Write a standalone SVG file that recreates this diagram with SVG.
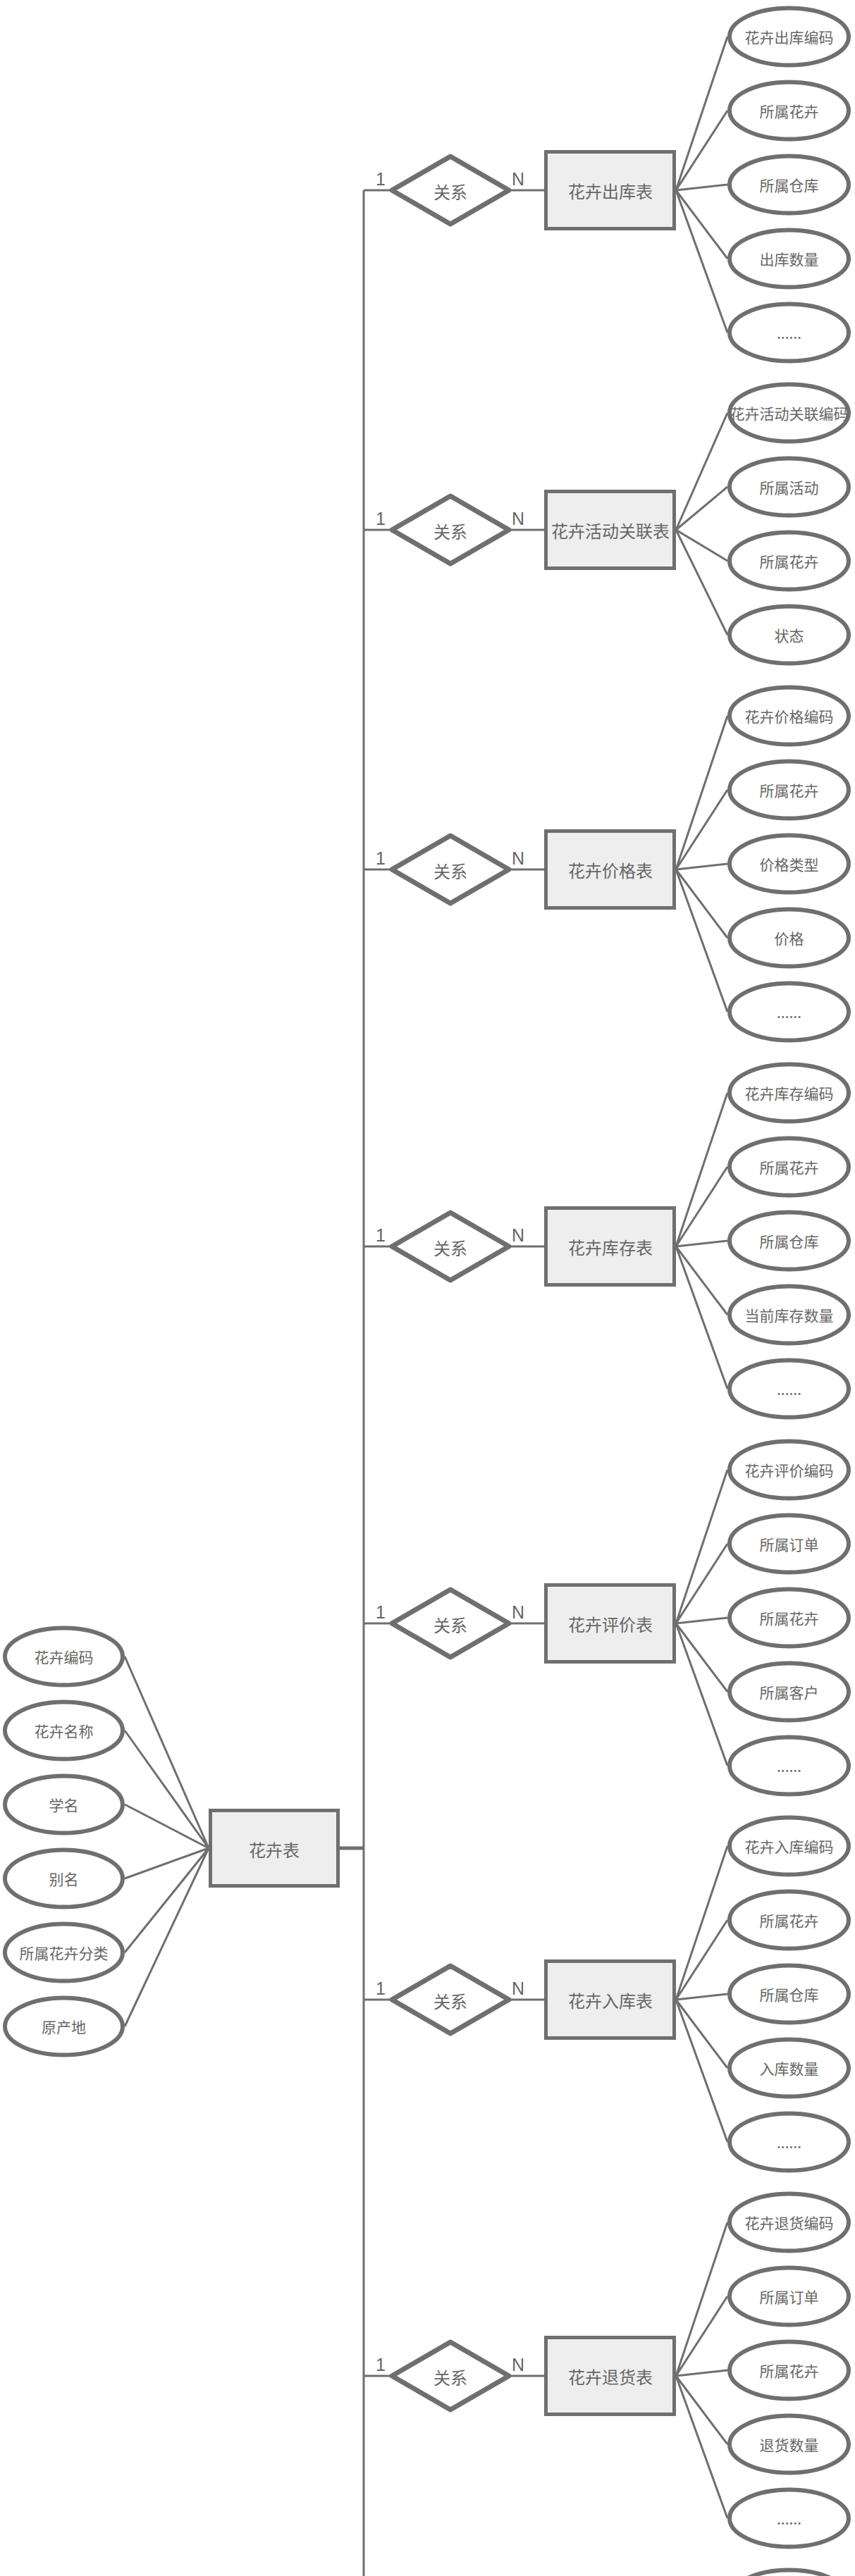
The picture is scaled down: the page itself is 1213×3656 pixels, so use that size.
<svg xmlns="http://www.w3.org/2000/svg" width="1213" height="3656" viewBox="0 0 1213 3656">
<style>
.ln{stroke:#6f6f6f;stroke-width:3;fill:none}
.lnb{stroke:#6f6f6f;stroke-width:5;fill:none}
.att{fill:#fff;stroke:#6f6f6f;stroke-width:6}
.ent{fill:#eeeeee;stroke:#6f6f6f;stroke-width:5}
.rel{fill:#fff;stroke:#6f6f6f;stroke-width:7;stroke-linejoin:round}
.t{font-family:"Noto Sans CJK SC","Liberation Sans",sans-serif;fill:#666;text-anchor:middle;dominant-baseline:central}
.ta{font-size:21px}
.te{font-size:24px}
.card{font-family:"Liberation Sans","Noto Sans CJK SC",sans-serif;fill:#666;font-size:25px;text-anchor:middle}
</style>
<rect width="1213" height="3656" fill="#fff"/>
<g id="connectors">
<path class="ln" d="M516 270V3656"/>
<path class="lnb" d="M482 2623H516"/>
<path class="ln" d="M177 2351L296 2623M177 2456L296 2623M177 2561L296 2623M177 2666L296 2623M177 2771L296 2623M177 2876L296 2623"/>
<path class="ln" d="M516 270H556M722 270H772M959 270L1032 52M959 270L1032 157M959 270L1032 262M959 270L1032 367M959 270L1032 472"/>
<path class="ln" d="M516 752H556M722 752H772M959 752L1032 586M959 752L1032 691M959 752L1032 796M959 752L1032 901"/>
<path class="ln" d="M516 1234H556M722 1234H772M959 1234L1032 1016M959 1234L1032 1121M959 1234L1032 1226M959 1234L1032 1331M959 1234L1032 1436"/>
<path class="ln" d="M516 1769H556M722 1769H772M959 1769L1032 1551M959 1769L1032 1656M959 1769L1032 1761M959 1769L1032 1866M959 1769L1032 1971"/>
<path class="ln" d="M516 2304H556M722 2304H772M959 2304L1032 2086M959 2304L1032 2191M959 2304L1032 2296M959 2304L1032 2401M959 2304L1032 2506"/>
<path class="ln" d="M516 2838H556M722 2838H772M959 2838L1032 2620M959 2838L1032 2725M959 2838L1032 2830M959 2838L1032 2935M959 2838L1032 3040"/>
<path class="ln" d="M516 3372H556M722 3372H772M959 3372L1032 3154M959 3372L1032 3259M959 3372L1032 3364M959 3372L1032 3469M959 3372L1032 3574"/>
</g>
<g id="main">
<g id="e-flower"><rect class="ent" x="298.5" y="2569.5" width="181" height="107"/><text class="t te" x="389" y="2624">花卉表</text></g>
<g id="a-m1"><ellipse class="att" cx="90.5" cy="2351" rx="83.5" ry="40.5"/><text class="t ta" x="90.5" y="2351">花卉编码</text></g>
<g id="a-m2"><ellipse class="att" cx="90.5" cy="2456" rx="83.5" ry="40.5"/><text class="t ta" x="90.5" y="2456">花卉名称</text></g>
<g id="a-m3"><ellipse class="att" cx="90.5" cy="2561" rx="83.5" ry="40.5"/><text class="t ta" x="90.5" y="2561">学名</text></g>
<g id="a-m4"><ellipse class="att" cx="90.5" cy="2666" rx="83.5" ry="40.5"/><text class="t ta" x="90.5" y="2666">别名</text></g>
<g id="a-m5"><ellipse class="att" cx="90.5" cy="2771" rx="83.5" ry="40.5"/><text class="t ta" x="90.5" y="2771">所属花卉分类</text></g>
<g id="a-m6"><ellipse class="att" cx="90.5" cy="2876" rx="83.5" ry="40.5"/><text class="t ta" x="90.5" y="2876">原产地</text></g>
</g>
<g id="g1">
<g id="r1"><path class="rel" d="M556 270L639 222L722 270L639 318Z"/><text class="t te" x="639" y="271">关系</text></g>
<text class="card" x="540" y="263">1</text><text class="card" x="735" y="263">N</text>
<g id="e1"><rect class="ent" x="774.5" y="215.5" width="182" height="109"/><text class="t te" x="866" y="270">花卉出库表</text></g>
<g id="a1-1"><ellipse class="att" cx="1119.5" cy="52" rx="84.5" ry="40.5"/><text class="t ta" x="1119.5" y="52">花卉出库编码</text></g>
<g id="a1-2"><ellipse class="att" cx="1119.5" cy="157" rx="84.5" ry="40.5"/><text class="t ta" x="1119.5" y="157">所属花卉</text></g>
<g id="a1-3"><ellipse class="att" cx="1119.5" cy="262" rx="84.5" ry="40.5"/><text class="t ta" x="1119.5" y="262">所属仓库</text></g>
<g id="a1-4"><ellipse class="att" cx="1119.5" cy="367" rx="84.5" ry="40.5"/><text class="t ta" x="1119.5" y="367">出库数量</text></g>
<g id="a1-5"><ellipse class="att" cx="1119.5" cy="472" rx="84.5" ry="40.5"/><text class="t ta" x="1119.5" y="472">......</text></g>
</g>
<g id="g2">
<g id="r2"><path class="rel" d="M556 752L639 704L722 752L639 800Z"/><text class="t te" x="639" y="753">关系</text></g>
<text class="card" x="540" y="745">1</text><text class="card" x="735" y="745">N</text>
<g id="e2"><rect class="ent" x="774.5" y="697.5" width="182" height="109"/><text class="t te" x="866" y="752">花卉活动关联表</text></g>
<g id="a2-1"><ellipse class="att" cx="1119.5" cy="586" rx="84.5" ry="40.5"/><text class="t ta" x="1119.5" y="586">花卉活动关联编码</text></g>
<g id="a2-2"><ellipse class="att" cx="1119.5" cy="691" rx="84.5" ry="40.5"/><text class="t ta" x="1119.5" y="691">所属活动</text></g>
<g id="a2-3"><ellipse class="att" cx="1119.5" cy="796" rx="84.5" ry="40.5"/><text class="t ta" x="1119.5" y="796">所属花卉</text></g>
<g id="a2-4"><ellipse class="att" cx="1119.5" cy="901" rx="84.5" ry="40.5"/><text class="t ta" x="1119.5" y="901">状态</text></g>
</g>
<g id="g3">
<g id="r3"><path class="rel" d="M556 1234L639 1186L722 1234L639 1282Z"/><text class="t te" x="639" y="1235">关系</text></g>
<text class="card" x="540" y="1227">1</text><text class="card" x="735" y="1227">N</text>
<g id="e3"><rect class="ent" x="774.5" y="1179.5" width="182" height="109"/><text class="t te" x="866" y="1234">花卉价格表</text></g>
<g id="a3-1"><ellipse class="att" cx="1119.5" cy="1016" rx="84.5" ry="40.5"/><text class="t ta" x="1119.5" y="1016">花卉价格编码</text></g>
<g id="a3-2"><ellipse class="att" cx="1119.5" cy="1121" rx="84.5" ry="40.5"/><text class="t ta" x="1119.5" y="1121">所属花卉</text></g>
<g id="a3-3"><ellipse class="att" cx="1119.5" cy="1226" rx="84.5" ry="40.5"/><text class="t ta" x="1119.5" y="1226">价格类型</text></g>
<g id="a3-4"><ellipse class="att" cx="1119.5" cy="1331" rx="84.5" ry="40.5"/><text class="t ta" x="1119.5" y="1331">价格</text></g>
<g id="a3-5"><ellipse class="att" cx="1119.5" cy="1436" rx="84.5" ry="40.5"/><text class="t ta" x="1119.5" y="1436">......</text></g>
</g>
<g id="g4">
<g id="r4"><path class="rel" d="M556 1769L639 1721L722 1769L639 1817Z"/><text class="t te" x="639" y="1770">关系</text></g>
<text class="card" x="540" y="1762">1</text><text class="card" x="735" y="1762">N</text>
<g id="e4"><rect class="ent" x="774.5" y="1714.5" width="182" height="109"/><text class="t te" x="866" y="1769">花卉库存表</text></g>
<g id="a4-1"><ellipse class="att" cx="1119.5" cy="1551" rx="84.5" ry="40.5"/><text class="t ta" x="1119.5" y="1551">花卉库存编码</text></g>
<g id="a4-2"><ellipse class="att" cx="1119.5" cy="1656" rx="84.5" ry="40.5"/><text class="t ta" x="1119.5" y="1656">所属花卉</text></g>
<g id="a4-3"><ellipse class="att" cx="1119.5" cy="1761" rx="84.5" ry="40.5"/><text class="t ta" x="1119.5" y="1761">所属仓库</text></g>
<g id="a4-4"><ellipse class="att" cx="1119.5" cy="1866" rx="84.5" ry="40.5"/><text class="t ta" x="1119.5" y="1866">当前库存数量</text></g>
<g id="a4-5"><ellipse class="att" cx="1119.5" cy="1971" rx="84.5" ry="40.5"/><text class="t ta" x="1119.5" y="1971">......</text></g>
</g>
<g id="g5">
<g id="r5"><path class="rel" d="M556 2304L639 2256L722 2304L639 2352Z"/><text class="t te" x="639" y="2305">关系</text></g>
<text class="card" x="540" y="2297">1</text><text class="card" x="735" y="2297">N</text>
<g id="e5"><rect class="ent" x="774.5" y="2249.5" width="182" height="109"/><text class="t te" x="866" y="2304">花卉评价表</text></g>
<g id="a5-1"><ellipse class="att" cx="1119.5" cy="2086" rx="84.5" ry="40.5"/><text class="t ta" x="1119.5" y="2086">花卉评价编码</text></g>
<g id="a5-2"><ellipse class="att" cx="1119.5" cy="2191" rx="84.5" ry="40.5"/><text class="t ta" x="1119.5" y="2191">所属订单</text></g>
<g id="a5-3"><ellipse class="att" cx="1119.5" cy="2296" rx="84.5" ry="40.5"/><text class="t ta" x="1119.5" y="2296">所属花卉</text></g>
<g id="a5-4"><ellipse class="att" cx="1119.5" cy="2401" rx="84.5" ry="40.5"/><text class="t ta" x="1119.5" y="2401">所属客户</text></g>
<g id="a5-5"><ellipse class="att" cx="1119.5" cy="2506" rx="84.5" ry="40.5"/><text class="t ta" x="1119.5" y="2506">......</text></g>
</g>
<g id="g6">
<g id="r6"><path class="rel" d="M556 2838L639 2790L722 2838L639 2886Z"/><text class="t te" x="639" y="2839">关系</text></g>
<text class="card" x="540" y="2831">1</text><text class="card" x="735" y="2831">N</text>
<g id="e6"><rect class="ent" x="774.5" y="2783.5" width="182" height="109"/><text class="t te" x="866" y="2838">花卉入库表</text></g>
<g id="a6-1"><ellipse class="att" cx="1119.5" cy="2620" rx="84.5" ry="40.5"/><text class="t ta" x="1119.5" y="2620">花卉入库编码</text></g>
<g id="a6-2"><ellipse class="att" cx="1119.5" cy="2725" rx="84.5" ry="40.5"/><text class="t ta" x="1119.5" y="2725">所属花卉</text></g>
<g id="a6-3"><ellipse class="att" cx="1119.5" cy="2830" rx="84.5" ry="40.5"/><text class="t ta" x="1119.5" y="2830">所属仓库</text></g>
<g id="a6-4"><ellipse class="att" cx="1119.5" cy="2935" rx="84.5" ry="40.5"/><text class="t ta" x="1119.5" y="2935">入库数量</text></g>
<g id="a6-5"><ellipse class="att" cx="1119.5" cy="3040" rx="84.5" ry="40.5"/><text class="t ta" x="1119.5" y="3040">......</text></g>
</g>
<g id="g7">
<g id="r7"><path class="rel" d="M556 3372L639 3324L722 3372L639 3420Z"/><text class="t te" x="639" y="3373">关系</text></g>
<text class="card" x="540" y="3365">1</text><text class="card" x="735" y="3365">N</text>
<g id="e7"><rect class="ent" x="774.5" y="3317.5" width="182" height="109"/><text class="t te" x="866" y="3372">花卉退货表</text></g>
<g id="a7-1"><ellipse class="att" cx="1119.5" cy="3154" rx="84.5" ry="40.5"/><text class="t ta" x="1119.5" y="3154">花卉退货编码</text></g>
<g id="a7-2"><ellipse class="att" cx="1119.5" cy="3259" rx="84.5" ry="40.5"/><text class="t ta" x="1119.5" y="3259">所属订单</text></g>
<g id="a7-3"><ellipse class="att" cx="1119.5" cy="3364" rx="84.5" ry="40.5"/><text class="t ta" x="1119.5" y="3364">所属花卉</text></g>
<g id="a7-4"><ellipse class="att" cx="1119.5" cy="3469" rx="84.5" ry="40.5"/><text class="t ta" x="1119.5" y="3469">退货数量</text></g>
<g id="a7-5"><ellipse class="att" cx="1119.5" cy="3574" rx="84.5" ry="40.5"/><text class="t ta" x="1119.5" y="3574">......</text></g>
</g>
<g id="g8">
<g id="a8-1"><ellipse class="att" cx="1119.5" cy="3688" rx="84.5" ry="40.5"/></g>
</g>
</svg>
